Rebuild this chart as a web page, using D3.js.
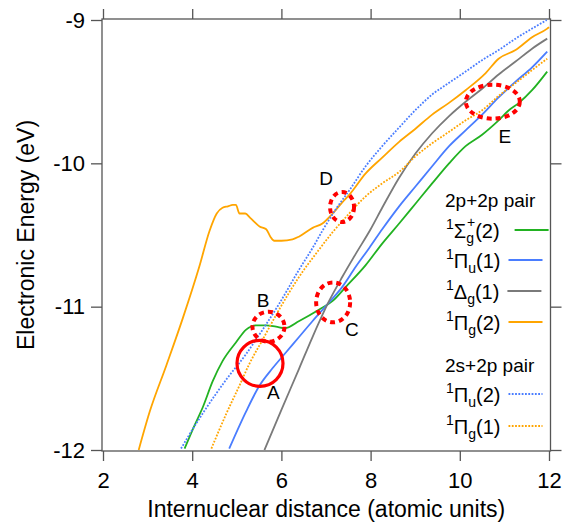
<!DOCTYPE html>
<html>
<head>
<meta charset="utf-8">
<script src="https://cdn.jsdelivr.net/npm/d3@7"></script>
<style>
  body { margin: 0; background: #fff; }
  svg { display: block; font-family: "Liberation Sans", Arial, sans-serif; }
</style>
</head>
<body>
<div id="chart"></div>
<script>
// 刻度
const xTicks = [2, 4, 6, 8, 10, 12];
const yTicks = [-12, -11, -10, -9];

// 2p+2p pair
const sigmaG2 = [[3.83,-11.99],[4.05,-11.83],[4.24,-11.70],[4.46,-11.52],[4.68,-11.38],[4.98,-11.25],[5.21,-11.16],[5.43,-11.13],[5.66,-11.13],[5.88,-11.14],[6.08,-11.15],[6.40,-11.10],[6.85,-11.02],[7.15,-10.96],[7.45,-10.86],[7.89,-10.71],[8.26,-10.56],[8.64,-10.42],[9.01,-10.28],[9.38,-10.14],[9.76,-10.00],[10.13,-9.88],[10.50,-9.80],[10.87,-9.70],[11.10,-9.63],[11.32,-9.58],[11.62,-9.49],[11.96,-9.36]];
const piU1 = [[4.83,-11.99],[5.21,-11.73],[5.51,-11.55],[5.80,-11.43],[6.10,-11.32],[6.40,-11.21],[6.70,-11.10],[7.07,-10.97],[7.37,-10.86],[7.67,-10.72],[7.97,-10.59],[8.26,-10.46],[8.64,-10.30],[9.01,-10.16],[9.38,-10.02],[9.76,-9.88],[10.13,-9.77],[10.50,-9.66],[10.87,-9.54],[11.25,-9.43],[11.62,-9.33],[11.96,-9.22]];
const deltaG1 = [[5.62,-12.00],[6.00,-11.72],[6.40,-11.43],[6.70,-11.21],[7.07,-10.96],[7.37,-10.79],[7.67,-10.63],[8.00,-10.46],[8.26,-10.31],[8.64,-10.10],[9.01,-9.93],[9.38,-9.79],[9.76,-9.67],[10.13,-9.57],[10.50,-9.48],[10.87,-9.38],[11.25,-9.29],[11.62,-9.20],[11.96,-9.13]];
const piG2 = [[2.80,-12.00],[3.05,-11.73],[3.42,-11.41],[3.79,-11.08],[4.16,-10.72],[4.39,-10.47],[4.55,-10.35],[4.68,-10.31],[4.80,-10.30],[4.91,-10.29],[4.98,-10.29],[5.06,-10.35],[5.19,-10.35],[5.30,-10.38],[5.51,-10.44],[5.66,-10.46],[5.75,-10.51],[5.84,-10.54],[6.00,-10.54],[6.25,-10.53],[6.40,-10.51],[6.70,-10.45],[6.92,-10.42],[7.15,-10.35],[7.37,-10.27],[7.52,-10.22],[7.89,-10.07],[8.26,-9.96],[8.64,-9.85],[9.00,-9.76],[9.38,-9.66],[9.75,-9.58],[10.13,-9.49],[10.58,-9.37],[10.87,-9.27],[11.25,-9.21],[11.62,-9.12],[11.96,-9.06],[12.00,-9.05]];

// 2s+2p pair
const piU2 = [[3.75,-11.99],[4.00,-11.86],[4.31,-11.71],[4.76,-11.51],[5.21,-11.33],[5.58,-11.16],[5.95,-10.98],[6.40,-10.74],[6.70,-10.59],[6.92,-10.47],[7.22,-10.32],[7.52,-10.19],[7.89,-10.02],[8.26,-9.88],[8.64,-9.75],[9.00,-9.63],[9.38,-9.52],[9.75,-9.44],[10.13,-9.36],[10.50,-9.28],[10.87,-9.21],[11.25,-9.13],[11.62,-9.06],[11.95,-9.00]];
const piG1 = [[4.43,-11.99],[4.76,-11.75],[5.06,-11.55],[5.28,-11.40],[5.58,-11.23],[5.95,-11.02],[6.40,-10.79],[6.80,-10.62],[7.15,-10.48],[7.52,-10.35],[7.89,-10.23],[8.26,-10.14],[8.64,-10.06],[9.01,-9.95],[9.38,-9.86],[9.76,-9.78],[10.13,-9.70],[10.50,-9.63],[10.87,-9.53],[11.25,-9.44],[11.62,-9.35],[11.96,-9.27]];

// 标注圆圈 (数据坐标)
const markA = { x: 5.52, y: -11.395, r: 23, label: "A", lx: 5.82, ly: -11.60 };
const dottedMarks = [
  { x: 5.71, y: -11.14, rx: 16, ry: 15, label: "B", lx: 5.59, ly: -10.96 },
  { x: 7.16, y: -10.97, rx: 17, ry: 20, label: "C", lx: 7.58, ly: -11.16 },
  { x: 7.36, y: -10.305, rx: 12, ry: 15, label: "D", lx: 7.00, ly: -10.105 },
  { x: 10.74, y: -9.57, rx: 27, ry: 17, label: "E", lx: 11.01, ly: -9.815 }
];

const series = [
  { data: sigmaG2, color: "#22b222", dotted: false, sym: "\u03A3", sub: "g", sup: "+", n: "(2)" },
  { data: piU1, color: "#4a7dff", dotted: false, sym: "\u03A0", sub: "u", sup: null, n: "(1)" },
  { data: deltaG1, color: "#7a7a7a", dotted: false, sym: "\u0394", sub: "g", sup: null, n: "(1)" },
  { data: piG2, color: "#ffa500", dotted: false, sym: "\u03A0", sub: "g", sup: null, n: "(2)" },
  { data: piU2, color: "#4a7dff", dotted: true, sym: "\u03A0", sub: "u", sup: null, n: "(2)" },
  { data: piG1, color: "#ffa500", dotted: true, sym: "\u03A0", sub: "g", sup: null, n: "(1)" }
];

const W = 570, H = 523;
const frame = { left: 102, right: 550.5, top: 19, bottom: 451 };

const svg = d3.select("#chart").append("svg").attr("width", W).attr("height", H);

const x = d3.scaleLinear().domain([2, 12]).range([103, 549]);
const y = d3.scaleLinear().domain([-12, -9]).range([450, 20]);

// 坐标轴
const fmt = d => String(d);
const axisStyle = g => {
  g.select(".domain").remove();
  g.selectAll(".tick line").attr("stroke", "#555").attr("stroke-width", 1.3);
  g.selectAll(".tick text").attr("font-size", 22).attr("fill", "#000")
    .attr("font-family", "Liberation Sans, Arial, sans-serif");
};

svg.append("g").attr("transform", `translate(0,${frame.bottom})`)
  .call(d3.axisBottom(x).tickValues(xTicks).tickFormat(fmt).tickSize(10).tickPadding(11))
  .call(axisStyle);
svg.append("g").attr("transform", `translate(0,${frame.top})`)
  .call(d3.axisTop(x).tickValues(xTicks).tickFormat("").tickSize(10))
  .call(axisStyle);
svg.append("g").attr("transform", `translate(${frame.left},0)`)
  .call(d3.axisLeft(y).tickValues(yTicks).tickFormat(fmt).tickSize(11).tickPadding(6))
  .call(axisStyle);
svg.append("g").attr("transform", `translate(${frame.right},0)`)
  .call(d3.axisRight(y).tickValues(yTicks).tickFormat("").tickSize(11))
  .call(axisStyle);

svg.append("rect")
  .attr("x", frame.left).attr("y", frame.top)
  .attr("width", frame.right - frame.left).attr("height", frame.bottom - frame.top)
  .attr("fill", "none").attr("stroke", "#555").attr("stroke-width", 1.3);

// 轴标题
svg.append("text")
  .attr("x", (frame.left + frame.right) / 2).attr("y", 517)
  .attr("text-anchor", "middle").attr("font-size", 23)
  .text("Internuclear distance (atomic units)");
svg.append("text")
  .attr("transform", `translate(34,${(frame.top + frame.bottom) / 2}) rotate(-90)`)
  .attr("text-anchor", "middle").attr("font-size", 23)
  .text("Electronic Energy (eV)");

// 曲线
svg.append("clipPath").attr("id", "clip").append("rect")
  .attr("x", frame.left).attr("y", frame.top)
  .attr("width", frame.right - frame.left).attr("height", frame.bottom - frame.top);

const line = d3.line().x(d => x(d[0])).y(d => y(d[1])).curve(d3.curveMonotoneX);
const plot = svg.append("g").attr("clip-path", "url(#clip)");

plot.selectAll(".curve").data(series).enter().append("path")
  .attr("class", "curve")
  .attr("d", d => line(d.data))
  .attr("fill", "none")
  .attr("stroke", d => d.color)
  .attr("stroke-width", 1.8)
  .attr("stroke-dasharray", d => d.dotted ? "1.8,1.5" : null);

// 标注
plot.append("circle")
  .attr("cx", x(markA.x)).attr("cy", y(markA.y)).attr("r", markA.r)
  .attr("fill", "none").attr("stroke", "#ff0000").attr("stroke-width", 3.2);

plot.selectAll(".dmark").data(dottedMarks).enter().append("ellipse")
  .attr("class", "dmark")
  .attr("cx", d => x(d.x)).attr("cy", d => y(d.y))
  .attr("rx", d => d.rx).attr("ry", d => d.ry)
  .attr("fill", "none").attr("stroke", "#ff0000")
  .attr("stroke-width", 4).attr("stroke-dasharray", "5,4");

svg.selectAll(".mlabel").data([markA, ...dottedMarks]).enter().append("text")
  .attr("class", "mlabel")
  .attr("x", d => x(d.lx)).attr("y", d => y(d.ly))
  .attr("text-anchor", "middle").attr("dominant-baseline", "central")
  .attr("font-size", 19)
  .text(d => d.label);

// 图例
const legendRows = [230, 260, 291, 322, 394, 426];
svg.append("text").attr("x", 445).attr("y", 207).attr("font-size", 19).text("2p+2p pair");
svg.append("text").attr("x", 445).attr("y", 372).attr("font-size", 19).text("2s+2p pair");

series.forEach((s, i) => {
  const ly = legendRows[i];
  const t = svg.append("text").attr("x", 446).attr("y", ly + 8).attr("font-size", 20);
  t.append("tspan").attr("font-size", 14).attr("dy", -9).text("1");
  t.append("tspan").attr("dy", 9).text(s.sym);
  t.append("tspan").attr("font-size", 14).attr("dy", 5).text(s.sub);
  if (s.sup) {
    t.append("tspan").attr("font-size", 14).attr("dx", -7).attr("dy", -16).text(s.sup);
    t.append("tspan").attr("dy", 11).text(s.n);
  } else {
    t.append("tspan").attr("dy", -5).text(s.n);
  }
  const end = 446 + t.node().getComputedTextLength();
  svg.append("line")
    .attr("x1", end + 8).attr("x2", end + 42)
    .attr("y1", ly).attr("y2", ly)
    .attr("stroke", s.color).attr("stroke-width", 1.8)
    .attr("stroke-dasharray", s.dotted ? "1.8,1.5" : null);
});
</script>
</body>
</html>
